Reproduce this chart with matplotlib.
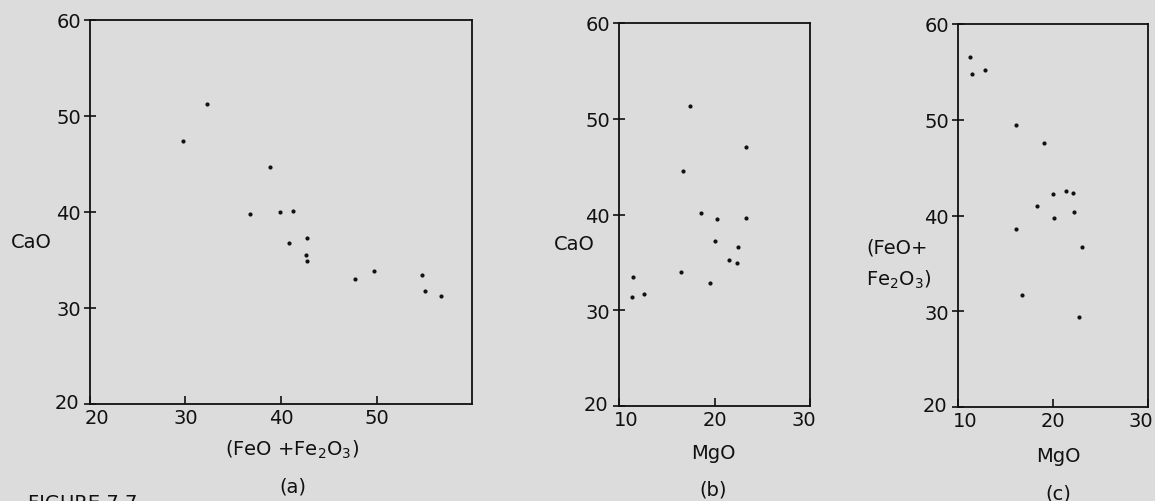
import matplotlib
matplotlib.use("Agg")
import matplotlib.pyplot as plt
import matplotlib.transforms as mtransforms

# panel (a): CaO vs (FeO + Fe2O3)
fe_a = [29.7, 32.3, 38.9, 36.8, 39.9, 41.3, 40.8, 42.7, 42.6, 42.7, 47.8, 49.7, 54.8, 55.1, 56.8]
cao_a = [47.4, 51.25, 44.7, 39.8, 40.0, 40.1, 36.8, 37.3, 35.5, 34.9, 33.0, 33.9, 33.4, 31.8, 31.3]

# panel (b): CaO vs MgO
mgo_b = [17.4, 23.3, 16.7, 18.6, 20.3, 23.3, 20.1, 22.5, 21.5, 22.4, 16.5, 19.5, 11.5, 11.4, 12.6]
cao_b = [51.3, 47.0, 44.5, 40.2, 39.5, 39.6, 37.2, 36.6, 35.2, 34.9, 34.0, 32.8, 33.5, 31.4, 31.7]

# panel (c): (FeO + Fe2O3) vs MgO
mgo_c = [11.3, 11.5, 12.8, 16.1, 19.1, 21.4, 22.1, 20.0, 18.3, 20.1, 22.2, 16.1, 23.0, 16.7, 22.7]
fe_c = [56.6, 54.8, 55.2, 49.5, 47.6, 42.6, 42.3, 42.2, 41.0, 39.7, 40.4, 38.6, 36.7, 31.7, 29.4]

y_ticks = [20, 30, 40, 50, 60]
xticks_a = [20, 30, 40, 50]
xticks_mg = [10, 20, 30]

W, H = 1155, 502
BG = "#dcdcdc"
FS = 14

plt.rcParams["font.family"] = ["DejaVu Sans"]
plt.rcParams["mathtext.default"] = "regular"

fig = plt.figure(figsize=(W / 100, H / 100), dpi=100, facecolor=BG)


def px_axes(x0, y0, x1, y1):
    # pixel box (left, top, right, bottom) -> figure axes
    return fig.add_axes([x0 / W, 1 - y1 / H, (x1 - x0) / W, (y1 - y0) / H])


def nudge(label, dx, dy=0):
    off = mtransforms.ScaledTranslation(dx / 100, dy / 100, fig.dpi_scale_trans)
    label.set_transform(label.get_transform() + off)


def style(ax, xlim, xticks, last_shift=0):
    ax.set_facecolor(BG)
    ax.set_xlim(*xlim)
    ax.set_ylim(20, 60)
    ax.set_xticks(xticks)
    ax.set_yticks(y_ticks)
    for s in ax.spines.values():
        s.set_linewidth(1.3)
        s.set_color("#111111")
    ax.tick_params(axis="x", direction="in", length=6, width=1.2,
                   labelsize=FS, pad=3, colors="#111111")
    ax.tick_params(axis="y", direction="inout", length=9, width=1.2,
                   labelsize=FS, pad=2, colors="#111111")
    xl = ax.get_xticklabels()
    nudge(xl[0], 7)
    if last_shift:
        nudge(xl[-1], last_shift)
    nudge(ax.get_yticklabels()[0], -2, 3)


def fig_text(x, y, s, **kw):
    fig.text(x / W, 1 - y / H, s, fontsize=FS, color="#111111",
             ha=kw.pop("ha", "center"), va=kw.pop("va", "center"), **kw)


ax_a = px_axes(90, 21, 472, 405)
style(ax_a, (20, 60), xticks_a)
ax_a.scatter(fe_a, cao_a, s=9, color="#111111", linewidths=0)

ax_b = px_axes(619, 24, 810, 407)
style(ax_b, (10, 30), xticks_mg, last_shift=-6)
ax_b.scatter(mgo_b, cao_b, s=9, color="#111111", linewidths=0)

ax_c = px_axes(958, 25, 1148, 408)
style(ax_c, (10, 30), xticks_mg, last_shift=-7)
ax_c.scatter(mgo_c, fe_c, s=9, color="#111111", linewidths=0)

# axis labels
fig_text(31, 242, "CaO")
fig_text(292, 450, "(FeO +Fe$_2$O$_3$)")
fig_text(293, 487, "(a)")

fig_text(574, 245, "CaO")
fig_text(713, 454, "MgO")
fig_text(713, 490, "(b)")

fig_text(866, 248, "(FeO+", ha="left")
fig_text(866, 280, "Fe$_2$O$_3$)", ha="left")
fig_text(1058, 457, "MgO")
fig_text(1058, 494, "(c)")

# caption, cut off at the bottom edge as in the scan
fig_text(28, 504, "FIGURE 7.7", ha="left")

fig.savefig("out.png", dpi=100, facecolor=BG)
